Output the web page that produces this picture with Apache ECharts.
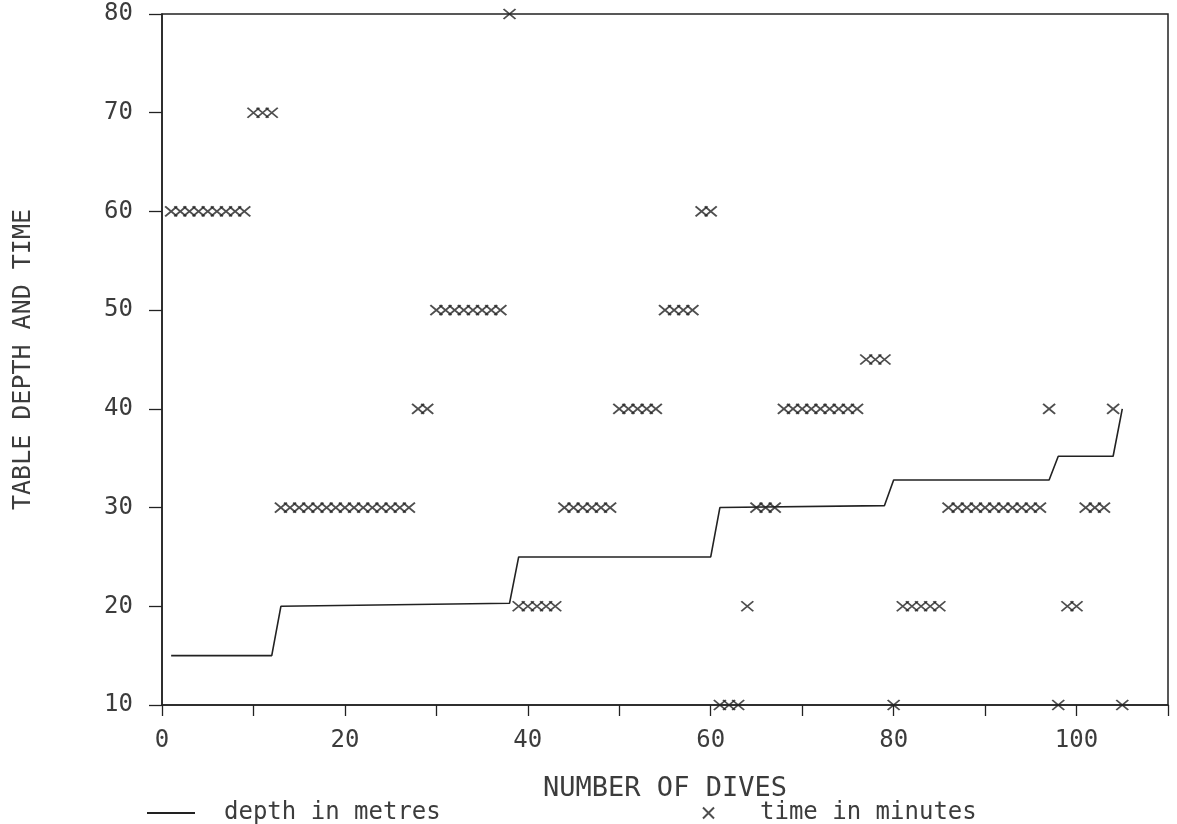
<!DOCTYPE html>
<html>
<head>
<meta charset="utf-8">
<script src="https://cdn.jsdelivr.net/npm/echarts@6/dist/echarts.min.js"></script>
<style>
html,body{margin:0;padding:0;background:#fff;}
#chart{width:1177px;height:824px;}
</style>
</head>
<body>
<div id="chart"></div>
<script>
// Time in minutes, one value per dive (dives 1..105)
var timeMinutes = [
  60,60,60,60,60,60,60,60,60,        // 1-9
  70,70,70,                          // 10-12
  30,30,30,30,30,30,30,30,30,30,30,30,30,30,30, // 13-27
  40,40,                             // 28-29
  50,50,50,50,50,50,50,50,           // 30-37
  80,                                // 38
  20,20,20,20,20,                    // 39-43
  30,30,30,30,30,30,                 // 44-49
  40,40,40,40,40,                    // 50-54
  50,50,50,50,                       // 55-58
  60,60,                             // 59-60
  10,10,10,                          // 61-63
  20,                                // 64
  30,30,30,                          // 65-67
  40,40,40,40,40,40,40,40,40,        // 68-76
  45,45,45,                          // 77-79
  10,                                // 80
  20,20,20,20,20,                    // 81-85
  30,30,30,30,30,30,30,30,30,30,30,  // 86-96
  40,                                // 97
  10,                                // 98
  20,20,                             // 99-100
  30,30,30,                          // 101-103
  40,                                // 104
  10                                 // 105
];
// Depth in metres: vertices of the step line (dive number, depth)
var depthDives   = [1, 12, 13, 38, 39, 60, 61, 79, 80, 97, 98, 104, 105];
var depthMetres  = [15, 15, 20, 20.3, 25, 25, 30, 30.2, 32.8, 32.8, 35.2, 35.2, 40];

var xTicks = [0, 20, 40, 60, 80, 100];
var yTicks = [10, 20, 30, 40, 50, 60, 70, 80];

var timeData = timeMinutes.map(function (v, i) { return [i + 1, v]; });
var depthData = depthDives.map(function (d, i) { return [d, depthMetres[i]]; });

var FONT = 'DejaVu Sans Mono';
var INK = '#222';
var TXT = '#3c3c3c';

var chart = echarts.init(document.getElementById('chart'));
chart.setOption({
  backgroundColor: '#fff',
  animation: false,
  grid: {
    left: 162, right: 9, top: 14, bottom: 119,
    show: true, borderColor: INK, borderWidth: 1.5, backgroundColor: 'transparent'
  },
  xAxis: {
    type: 'value', min: 0, max: 110, interval: 10,
    name: 'NUMBER OF DIVES', nameLocation: 'middle', nameGap: 70,
    nameTextStyle: { fontFamily: FONT, fontSize: 27, color: TXT },
    axisLine: { show: true, onZero: false, lineStyle: { color: INK, width: 1.5 } },
    axisTick: { show: true, length: 11, lineStyle: { color: INK, width: 1.3 } },
    axisLabel: {
      margin: 24, fontFamily: FONT, fontSize: 24, color: TXT,
      formatter: function (v) { return xTicks.indexOf(v) >= 0 ? String(v) : ''; }
    },
    splitLine: { show: false }
  },
  yAxis: {
    type: 'value', min: 10, max: 80, interval: 10,
    name: 'TABLE DEPTH AND TIME', nameLocation: 'middle', nameGap: 126,
    nameTextStyle: { fontFamily: FONT, fontSize: 25, color: TXT },
    axisLine: { show: true, onZero: false, lineStyle: { color: INK, width: 1.5 } },
    axisTick: { show: true, length: 13, lineStyle: { color: INK, width: 1.3 } },
    axisLabel: {
      margin: 29, fontFamily: FONT, fontSize: 24, color: TXT,
      formatter: function (v) { return yTicks.indexOf(v) >= 0 ? String(v) : ''; }
    },
    splitLine: { show: false }
  },
  legend: [
    {
      data: [{ name: 'depth in metres', icon: 'rect' }], left: 142, top: 796,
      itemWidth: 48, itemHeight: 2,
      textStyle: { fontFamily: FONT, fontSize: 24, color: TXT, padding: [0, 0, 0, 24] },
      selectedMode: false
    },
    {
      data: ['time in minutes'], left: 697, top: 796,
      itemWidth: 13, itemHeight: 11,
      textStyle: { fontFamily: FONT, fontSize: 24, color: TXT, padding: [0, 0, 0, 40] },
      selectedMode: false
    }
  ],
  series: [
    {
      name: 'depth in metres', type: 'line', data: depthData,
      symbol: 'none', clip: false,
      lineStyle: { color: INK, width: 1.6 },
      itemStyle: { color: INK }
    },
    {
      name: 'time in minutes', type: 'scatter', data: timeData,
      symbol: 'path://M0,0L10,10M10,0L0,10', symbolSize: [12, 10], clip: false,
      itemStyle: { color: 'transparent', borderColor: INK, borderWidth: 1.8 }
    }
  ]
});
</script>
</body>
</html>
